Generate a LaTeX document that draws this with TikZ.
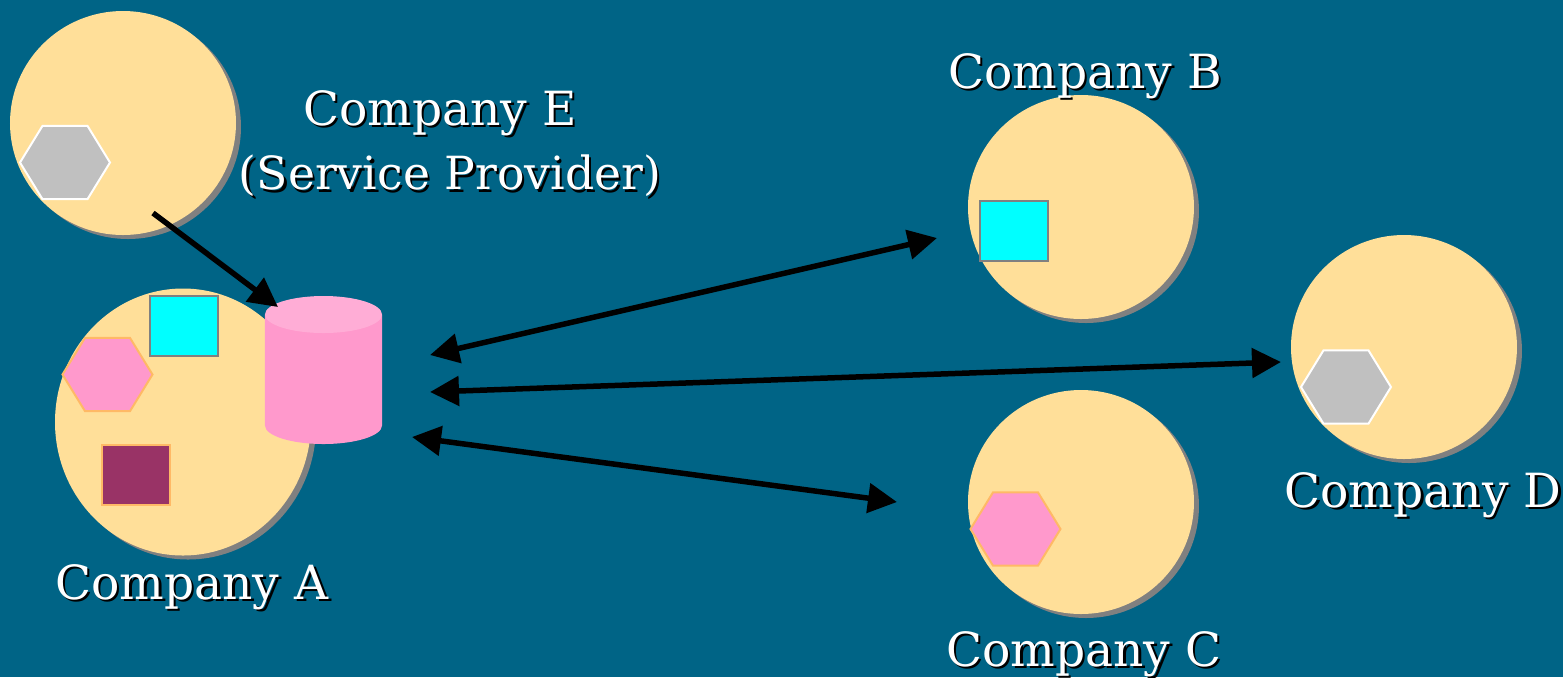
\documentclass[tikz,border=0pt]{standalone}
\usepackage{fontspec}
\setmainfont{DejaVu Serif}
\usetikzlibrary{positioning, shapes.geometric, arrows.meta, shadows}
\definecolor{slidebg}{HTML}{006486}
\definecolor{sandfill}{HTML}{FFDF99}
\definecolor{shadowgray}{HTML}{808080}
\definecolor{pinkfill}{HTML}{FF99CC}
\definecolor{pinktop}{HTML}{FFADD6}
\definecolor{pinkedge}{HTML}{FFB966}
\definecolor{plumfill}{HTML}{993366}
\definecolor{hexgray}{HTML}{C0C0C0}
\definecolor{boxcyanfill}{HTML}{00FFFF}
\newcommand{\shadowed}[1]{\leavevmode\rlap{\kern0.025cm\raisebox{-0.025cm}{\color{black}#1}}#1}
\tikzset{
	company/.style={ellipse,fill=sandfill,inner sep=0,minimum width=2.26cm,minimum height=2.24cm,
		drop shadow={shadow xshift=0.05cm,shadow yshift=-0.04cm,fill=shadowgray,opacity=1}},
	hexa/.style={regular polygon,regular polygon sides=6,inner sep=0,minimum size=0.9cm,yscale=0.94,line width=0.02cm},
	hexagray/.style={hexa,fill=hexgray,draw=white},
	hexapink/.style={hexa,fill=pinkfill,draw=pinkedge},
	box/.style={rectangle,inner sep=0,minimum width=0.68cm,minimum height=0.6cm,line width=0.02cm},
	boxcyan/.style={box,fill=boxcyanfill,draw=shadowgray},
	boxplum/.style={box,fill=plumfill,draw=pinkedge},
	lbl/.style={text=white,font=\fontsize{13.4pt}{18.2pt}\selectfont,align=center,inner sep=0},
	arr/.style={line width=0.055cm,-{Triangle[length=0.29cm,width=0.29cm]}},
	dblarr/.style={line width=0.055cm,{Triangle[length=0.29cm,width=0.29cm]}-{Triangle[length=0.29cm,width=0.29cm]}},
}
\begin{document}
\begin{tikzpicture}
	\useasboundingbox (0,0) rectangle (15.63,-6.77);
	\fill[slidebg] (0,0) rectangle (15.63,-6.77);

	% companies
	\node [company] at (1.23,-1.23) (compE) {};
	\node [company,minimum width=2.56cm,minimum height=2.67cm] at (1.83,-4.22) (compA) {};
	\node [company] at (10.81,-2.07) (compB) {};
	\node [company] at (10.81,-5.02) (compC) {};
	\node [company] at (14.04,-3.47) (compD) {};

	% services
	\node [hexagray] at (0.65,-1.625) (hexE) {};
	\node [hexapink] at (1.075,-3.745) (hexA) {};
	\node [hexapink] at (10.155,-5.29) (hexC) {};
	\node [hexagray] at (13.46,-3.87) (hexD) {};
	\node [boxcyan] at (1.84,-3.26) (boxA) {};
	\node [boxplum] at (1.36,-4.75) (plumA) {};
	\node [boxcyan] at (10.14,-2.31) (boxB) {};

	% repository
	\fill[pinkfill] (2.65,-3.145) -- (2.65,-4.255) arc (180:360:0.585 and 0.185) -- (3.82,-3.145) -- cycle;
	\fill[pinktop] (3.235,-3.145) ellipse (0.585 and 0.185);

	% labels
	\node [lbl] at (4.40,-1.14) (lblE1) {\shadowed{Company E}};
	\node [lbl,font=\fontsize{13pt}{18.2pt}\selectfont] at (4.50,-1.77) (lblE2) {\shadowed{(Service Provider)}};
	\node [lbl] at (10.85,-0.77) (lblB) {\shadowed{Company B}};
	\node [lbl] at (1.92,-5.88) (lblA) {\shadowed{Company A}};
	\node [lbl] at (14.23,-4.96) (lblD) {\shadowed{Company D}};
	\node [lbl] at (10.84,-6.55) (lblC) {\shadowed{Company C}};

	% connector ends
	\coordinate (eout) at (1.53,-2.13);
	\coordinate (ein) at (2.78,-3.07);
	\coordinate (repoB) at (4.30,-3.55);
	\coordinate (repoD) at (4.30,-3.92);
	\coordinate (repoC) at (4.12,-4.37);
	\coordinate (endB) at (9.37,-2.38);
	\coordinate (endD) at (12.81,-3.62);
	\coordinate (endC) at (8.97,-5.02);

	\draw [arr] (eout) -- (ein);
	\draw [dblarr] (repoB) -- (endB);
	\draw [dblarr] (repoD) -- (endD);
	\draw [dblarr] (repoC) -- (endC);
\end{tikzpicture}
\end{document}
